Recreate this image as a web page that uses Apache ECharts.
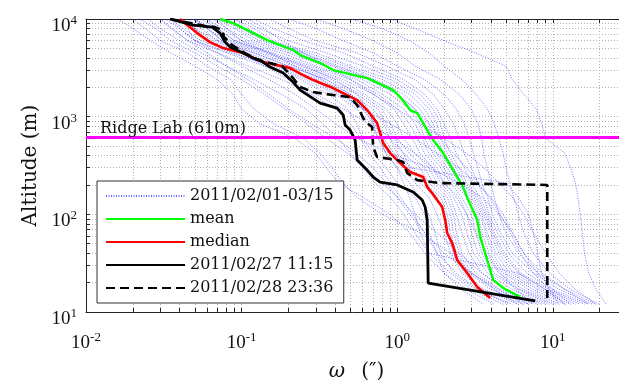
<!DOCTYPE html>
<html><head><meta charset="utf-8">
<script src="https://cdn.jsdelivr.net/npm/echarts@6/dist/echarts.min.js"></script>
<style>html,body{margin:0;padding:0;background:#fff}#c{width:619px;height:382px}</style>
</head><body><div id="c"></div><script>
// ---------- data ----------
const xMin = 0.01, xMax = 30;
const yMin = 10, yMax = 10000;
const xMajorTicks = [0.01, 0.1, 1, 10];
const xMinorTicks = [0.02,0.03,0.04,0.05,0.06,0.07,0.08,0.09,0.2,0.3,0.4,0.5,0.6,0.7,0.8,0.9,2,3,4,5,6,7,8,9,20];
const yMajorTicks = [10, 100, 1000, 10000];
const yMinorTicks = [20,30,40,50,60,70,80,90,200,300,400,500,600,700,800,900,2000,3000,4000,5000,6000,7000,8000,9000];
const ridgeLabAltitude = 610;
const ridgeLabLabel = 'Ridge Lab (610m)';

const profileName = '2011/02/01-03/15';
const profileAltitudes = [10000,8000,6000,4500,3300,2400,1700,1200,850,600,420,300,210,150,100,65,40,25,17,12];
const dailyProfiles = [
 [0.016,0.02,0.026,0.035,0.05,0.07,0.088,0.1,0.13,0.22,0.3,0.35,0.42,0.6,0.9,1.2,1.5,2.0,2.8,4.2],
 [0.02,0.024,0.03,0.045,0.06,0.085,0.1,0.12,0.16,0.25,0.32,0.38,0.45,0.55,0.8,1.4,2.2,3.0,4.2,6.0],
 [0.025,0.03,0.04,0.055,0.08,0.12,0.18,0.26,0.33,0.42,0.5,0.6,0.72,0.9,1.1,1.3,1.6,2.2,3.0,4.8],
 [0.03,0.035,0.045,0.07,0.11,0.18,0.28,0.4,0.5,0.58,0.66,0.78,0.9,1.05,1.25,1.5,1.8,2.4,3.3,5.2],
 [0.032,0.04,0.05,0.08,0.14,0.24,0.36,0.48,0.55,0.6,0.7,0.85,1.0,1.3,1.5,1.6,1.8,2.0,2.6,3.6],
 [0.035,0.042,0.055,0.09,0.15,0.26,0.4,0.55,0.68,0.76,0.85,1.0,1.2,1.4,1.6,1.75,1.9,2.3,3.2,5.5],
 [0.04,0.045,0.05,0.085,0.16,0.28,0.42,0.6,0.72,0.8,0.9,1.1,1.3,1.6,1.8,2.0,2.2,2.6,3.5,6.0],
 [0.04,0.05,0.065,0.11,0.18,0.3,0.44,0.62,0.74,0.82,0.95,1.2,1.4,1.8,2.0,2.1,2.3,2.7,3.6,6.5],
 [0.042,0.05,0.06,0.1,0.17,0.32,0.5,0.7,0.82,0.9,1.0,1.25,1.5,1.9,2.1,2.2,2.4,2.9,4.0,7.0],
 [0.045,0.055,0.07,0.12,0.2,0.35,0.55,0.75,0.85,0.95,1.1,1.4,1.6,2.0,2.2,2.3,2.5,3.0,4.3,7.5],
 [0.048,0.06,0.075,0.13,0.22,0.38,0.58,0.8,0.9,1.0,1.2,1.5,1.7,2.1,2.3,2.4,2.6,3.2,4.6,8.0],
 [0.05,0.06,0.08,0.14,0.24,0.42,0.62,0.85,1.0,1.1,1.3,1.6,1.8,2.2,2.4,2.6,2.9,3.5,5.0,8.5],
 [0.05,0.065,0.085,0.15,0.26,0.45,0.7,0.95,1.1,1.25,1.4,1.7,1.9,2.3,2.6,2.8,3.1,3.8,5.5,9.0],
 [0.055,0.07,0.09,0.16,0.28,0.5,0.75,1.0,1.2,1.35,1.5,1.8,2.0,2.5,2.8,3.0,3.3,4.0,6.0,9.5],
 [0.06,0.075,0.1,0.18,0.3,0.55,0.8,1.1,1.3,1.45,1.6,1.9,2.2,2.6,3.0,3.2,3.5,4.2,6.2,10],
 [0.065,0.08,0.11,0.2,0.34,0.6,0.9,1.2,1.4,1.5,1.7,2.0,2.3,2.8,3.2,3.4,3.7,4.5,6.5,10.5],
 [0.07,0.09,0.12,0.22,0.38,0.65,1.0,1.3,1.5,1.6,1.8,2.1,2.4,2.9,3.3,3.5,3.9,4.8,7.0,11],
 [0.075,0.095,0.13,0.25,0.42,0.72,1.1,1.4,1.6,1.7,1.9,2.2,2.5,3.0,3.4,3.7,4.1,5.0,7.5,12],
 [0.08,0.1,0.14,0.27,0.46,0.8,1.2,1.5,1.7,1.8,2.0,2.3,2.6,3.1,3.5,3.8,4.3,5.3,8.0,13],
 [0.09,0.11,0.15,0.3,0.5,0.9,1.3,1.6,1.8,1.9,2.1,2.4,2.7,3.2,3.6,4.0,4.5,5.6,8.5,14],
 [0.1,0.13,0.2,0.35,0.6,1.0,1.4,1.7,1.9,2.0,2.2,2.5,2.8,3.3,3.7,4.1,4.7,6.0,9.0,15],
 [0.12,0.16,0.25,0.45,0.7,1.1,1.5,1.8,2.0,2.2,2.4,2.7,3.0,3.4,3.8,4.2,4.9,6.2,9.5,16],
 [0.15,0.2,0.3,0.55,0.85,1.3,1.7,2.0,2.3,2.5,2.7,3.0,3.3,3.6,3.9,4.4,5.2,6.8,10,17],
 [0.2,0.3,0.45,0.7,1.0,1.5,2.0,2.4,2.7,2.9,3.1,3.3,3.5,3.8,4.1,4.6,5.5,7.5,11,18],
 [0.3,0.45,0.7,1.0,1.3,1.9,2.5,3.0,3.3,3.5,3.6,3.8,4.0,4.2,4.5,5.0,6.0,8.0,12,19],
 [0.5,0.8,1.2,1.6,2.0,2.6,3.2,3.8,4.2,4.5,4.8,5.0,5.3,5.6,6.0,6.5,7.5,9.5,13,20],
 [0.9,1.3,2.0,3.2,5.0,5.5,6.5,7.8,8.5,9.0,12,13,14,14.5,15,15.5,16,17,19,22],
 [0.04,0.05,0.07,0.12,0.2,0.35,0.5,0.6,0.7,0.9,1.1,1.2,5.0,6.0,7.0,7.5,8.0,8.5,9.5,11],
 [0.06,0.07,0.09,0.15,0.25,0.4,0.55,0.65,0.7,0.75,0.85,1.0,1.1,1.2,1.3,1.4,1.6,6.0,9.0,12],
 [0.035,0.04,0.05,0.07,0.1,0.15,0.22,0.3,0.4,0.55,0.9,1.6,2.5,3.5,4.5,5.5,6.5,8.0,10,13],
 [0.07,0.08,0.1,0.15,0.22,0.33,0.45,0.6,0.9,1.3,1.8,2.5,3.2,4.0,4.8,5.5,6.5,8.5,12,17],
 [0.11,0.14,0.18,0.25,0.35,0.5,0.7,1.0,1.4,2.0,2.8,3.6,4.5,5.5,6.5,7.5,9.0,11,14,19],
 [0.03,0.036,0.045,0.06,0.08,0.11,0.15,0.2,0.28,0.4,0.55,0.7,0.85,1.0,1.2,1.5,2.0,3.0,4.5,6.5],
 [0.05,0.06,0.075,0.1,0.14,0.2,0.3,0.45,0.65,0.95,1.3,1.7,2.0,2.4,2.8,3.2,3.8,4.6,5.8,7.5],
 [0.022,0.028,0.035,0.05,0.07,0.1,0.14,0.19,0.26,0.35,0.48,0.62,0.8,1.0,1.3,1.8,2.5,3.5,5.0,7.0],
 [0.09,0.12,0.16,0.24,0.4,0.7,1.0,1.3,1.6,1.9,2.3,2.8,3.3,3.9,4.6,5.3,6.2,7.5,9.5,12]
];

const meanName = 'mean';
const meanOmega = [0.0727,0.0882,0.1459,0.214,0.238,0.32,0.387,0.641,0.942,1.045,1.212,1.345,1.56,1.704,1.976,2.29,2.654,2.86,3.27,3.42,3.79,4.14,4.81,6.18];
const meanAltitude = [10000,9080,6080,4810,4270,3540,3000,2485,1870,1587,1168,1089,729,576,424,284,190,140,87.5,58.6,34,21.3,17.6,14.2];

const medianName = 'median';
const medianOmega = [0.0402,0.0518,0.0627,0.076,0.1022,0.1375,0.169,0.205,0.2486,0.2883,0.387,0.4496,0.5533,0.641,0.743,0.813,0.901,1.045,1.212,1.469,1.56,1.704,1.807,1.946,2.036,2.097,2.258,2.432,2.818,3.27,3.96];
const medianAltitude = [10000,7170,5800,5040,4480,3620,3370,3145,2666,2370,1962,1744,1479,1168,860,537,424,335,271,241,190,160,140,119,87.5,64.4,50.8,34.0,25.1,18.0,13.9];

const run1Name = '2011/02/27 11:15';
const run1Omega = [0.0347,0.0488,0.0646,0.0727,0.0783,0.0844,0.1022,0.1186,0.1315,0.1525,0.185,0.214,0.238,0.32,0.411,0.45,0.463,0.4985,0.537,0.553,0.641,0.701,0.777,1.0,1.267,1.448,1.513,1.56,1.582,7.72];
const run1Altitude = [10000,8660,8260,7170,5800,5160,4480,3980,3800,3220,2795,2260,1870,1377,1225,1039,821,729,576,360,284,241,214,200,169,140,119,87.5,19.8,13.0];

const run2Name = '2011/02/28 23:36';
const run2Omega = [0.0347,0.0582,0.0676,0.0749,0.0772,0.0869,0.1053,0.1277,0.1525,0.182,0.214,0.238,0.2883,0.387,0.4985,0.5533,0.604,0.641,0.69,0.701,0.743,1.0,1.093,1.159,1.345,1.89,9.22,9.22];
const run2Altitude = [10000,8450,8260,7690,6530,5410,4480,3800,3540,3300,2485,2010,1786,1664,1587,1314,967,860,783,489,386,360,343,265,224,209,200,13.9];

// ---------- chart ----------
const FONT = 'DejaVu Serif';
const TICKFONT = '"Liberation Serif"';
const zip = (xs, ys) => xs.map((x, i) => [x, ys[i]]);
const allX = xMajorTicks.concat(xMinorTicks).sort((a,b)=>a-b);
const allY = yMajorTicks.concat(yMinorTicks).sort((a,b)=>a-b);
const isMajor = (v, majors) => majors.some(m => Math.abs(m - v) / m < 1e-6);
const powLabel = (majors) => (v) => isMajor(v, majors) ? '{b|10}{s|' + Math.round(Math.log10(v)) + '}' : '';
const rich = {
  b: {fontFamily: TICKFONT, fontSize: 19, color: '#111', lineHeight: 24},
  s: {fontFamily: TICKFONT, fontSize: 13, color: '#111', verticalAlign: 'top'}
};
const axisCol = '#262626';
const gridStyle = {show: true, lineStyle: {color: '#b0b0b0', width: 1, type: [1, 2]}};

const series = [];
dailyProfiles.forEach(row => {
  series.push({
    name: profileName, type: 'line', data: zip(row, profileAltitudes),
    symbol: 'none', silent: true, z: 2,
    itemStyle: {color: 'rgba(40,40,255,0.7)'},
    lineStyle: {color: 'rgba(40,40,255,0.7)', width: 0.9, type: [1, 1.5]}
  });
});
series.push({
  name: 'ridge', type: 'line', data: [], z: 3,
  markLine: {
    silent: true, symbol: ['none', 'none'], animation: false,
    lineStyle: {color: '#ff00ff', width: 2.8, type: 'solid'},
    label: {show: true, position: 'insideStartTop', formatter: ridgeLabLabel,
      fontFamily: FONT, fontSize: 16, color: '#111', distance: [14, 1]},
    data: [{yAxis: ridgeLabAltitude}]
  }
});
const mainLine = (name, xs, ys, color, width, type) => ({
  name, type: 'line', data: zip(xs, ys), symbol: 'none', z: 4,
  itemStyle: {color}, lineStyle: {color, width, type}
});
series.push(mainLine(meanName, meanOmega, meanAltitude, '#00ff00', 2.4, 'solid'));
series.push(mainLine(medianName, medianOmega, medianAltitude, '#ff0000', 2.6, 'solid'));
series.push(mainLine(run1Name, run1Omega, run1Altitude, '#000000', 2.8, 'solid'));
series.push(mainLine(run2Name, run2Omega, run2Altitude, '#000000', 2.6, [9, 5]));

const chart = echarts.init(document.getElementById('c'), null, {renderer: 'canvas'});
chart.setOption({
  animation: false,
  backgroundColor: '#fff',
  grid: {left: 86, top: 19, width: 541, height: 293, containLabel: false, outerBoundsMode: 'none'},
  xAxis: [{
    type: 'log', min: xMin, max: xMax, position: 'bottom',
    name: '{i|ω}\u2002 (″)', nameLocation: 'middle', nameGap: 50,
    nameTextStyle: {fontFamily: FONT, fontSize: 20, color: '#111',
      rich: {i: {fontFamily: FONT, fontSize: 20, fontStyle: 'italic', color: '#111'}}},
    axisLine: {show: true, lineStyle: {color: axisCol, width: 1}},
    axisTick: {show: true, inside: true, length: 4, customValues: allX, lineStyle: {color: axisCol}},
    axisLabel: {show: true, margin: 19, customValues: xMajorTicks, formatter: powLabel(xMajorTicks), rich},
    splitLine: Object.assign({}, gridStyle),
    minorTick: {show: false}
  }, {
    type: 'log', min: xMin, max: xMax, position: 'top',
    axisLine: {show: true, lineStyle: {color: axisCol, width: 1}},
    axisTick: {show: true, inside: true, length: 4, customValues: allX, lineStyle: {color: axisCol}},
    axisLabel: {show: false},
    splitLine: {show: false}
  }],
  yAxis: [{
    type: 'log', min: yMin, max: yMax,
    name: 'Altitude (m)', nameLocation: 'middle', nameGap: 45, nameRotate: 90,
    nameTextStyle: {fontFamily: FONT, fontSize: 20, color: '#111'},
    axisLine: {show: true, lineStyle: {color: axisCol, width: 1}},
    axisTick: {show: true, inside: true, length: 4, customValues: allY, lineStyle: {color: axisCol}},
    axisLabel: {show: true, margin: 9, padding: [14, 0, 0, 0], customValues: yMajorTicks, formatter: powLabel(yMajorTicks), rich},
    splitLine: Object.assign({}, gridStyle)
  }],
  legend: {
    show: true, orient: 'vertical', left: 97, top: 181,
    padding: [5, 10, 5, 8], itemGap: 3, itemWidth: 79, itemHeight: 14,
    backgroundColor: '#fff', borderColor: '#333', borderWidth: 1, borderRadius: 0,
    selectedMode: false,
    itemStyle: {opacity: 0},
    textStyle: {fontFamily: FONT, fontSize: 16, color: '#111', lineHeight: 20},
    data: [profileName, meanName, medianName, run1Name, run2Name]
  },
  series
});
</script></body></html>
